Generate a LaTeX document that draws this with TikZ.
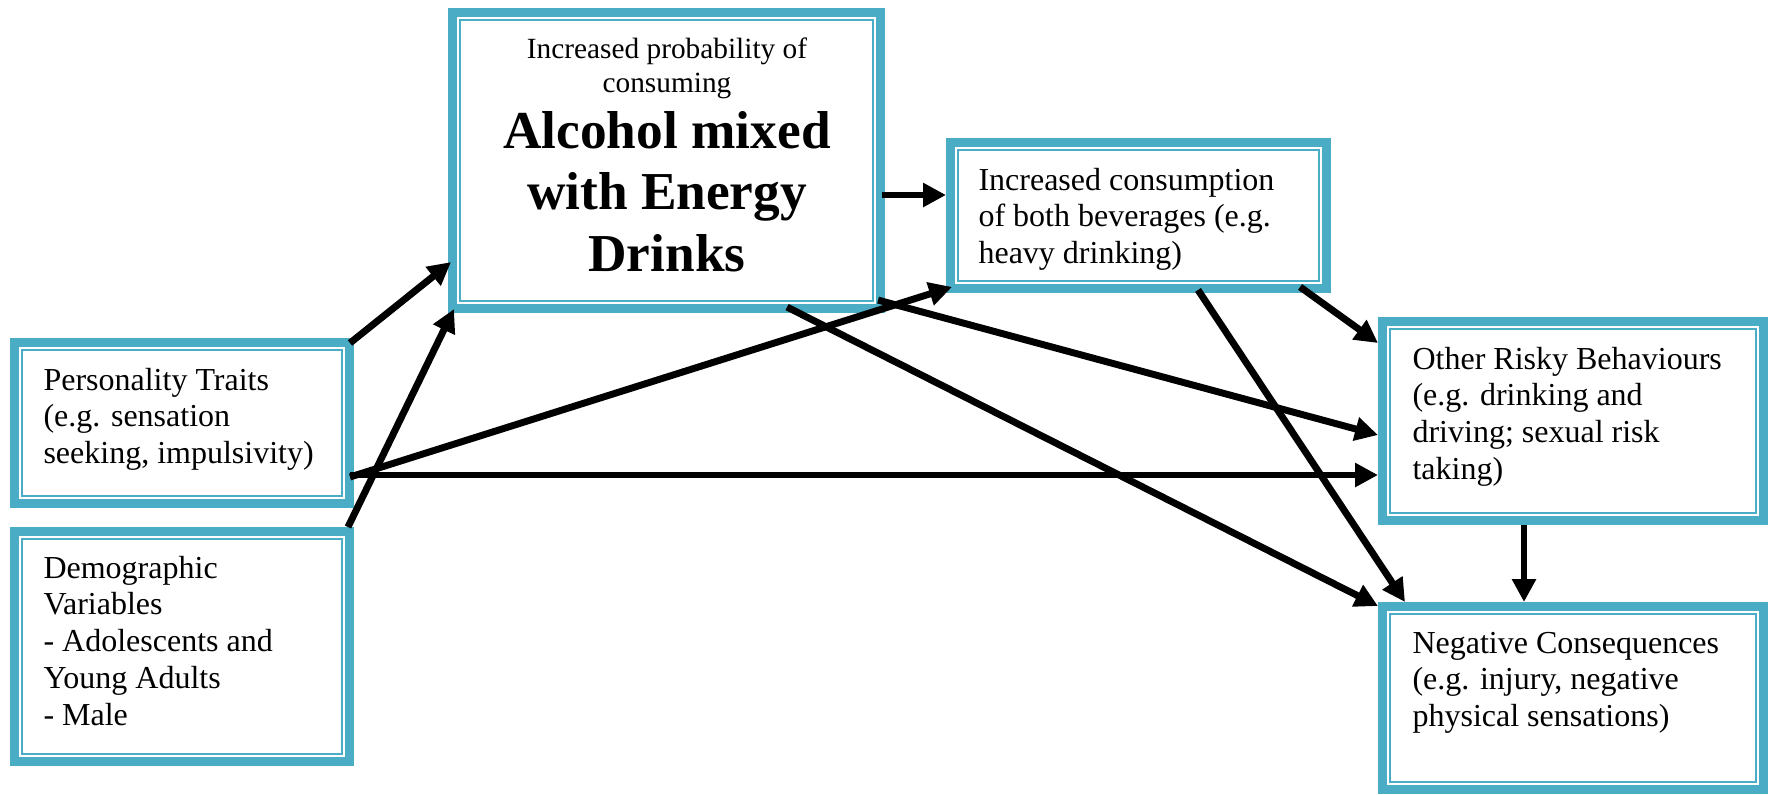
\documentclass[tikz,border=0pt]{standalone}
\usepackage{fontspec}
\setmainfont{Liberation Serif}
\usetikzlibrary{arrows.meta,calc}
\definecolor{boxblue}{RGB}{75,172,198}
\begin{document}
\begin{tikzpicture}[x=0.375pt,y=-0.375pt,
  cbox/.style={draw=boxblue, line width=3.5pt, fill=white, rectangle, inner sep=0pt, anchor=north west},
  inbox/.style={draw=boxblue, line width=0.75pt},
  arr/.style={line width=2.6pt, -{Triangle[length=8.6pt,width=8.6pt]}},
  txt/.style={inner sep=0pt, anchor=base west},
  bodyfont/.style={font=\rmfamily\mdseries\fontsize{12}{13.8}\selectfont}
]
\useasboundingbox (0,0) rectangle (1768,794);

% boxes
\node[cbox, minimum width=125.5pt, minimum height=60.25pt] (pt) at (10,338) {};
\node[cbox, minimum width=125.5pt, minimum height=86.1pt] (dv) at (10,527) {};
\node[cbox, minimum width=160.4pt, minimum height=110.9pt] (am) at (448,8) {};
\node[cbox, minimum width=140.9pt, minimum height=54.6pt] (ic) at (946,138) {};
\node[cbox, minimum width=142.75pt, minimum height=74.5pt] (orb) at (1378,317) {};
\node[cbox, minimum width=142.75pt, minimum height=68.5pt] (nc) at (1378,602) {};

\foreach \n in {pt,dv,am,ic,orb,nc}
  \draw[inbox] ($(\n.north west)+(11.7,11.7)$) rectangle ($(\n.south east)+(-11.7,-11.7)$);

% texts
\node[txt, bodyfont] (ptt) at (43,390) {\parbox[t]{150pt}{\rmfamily\raggedright Personality Traits\\(e.g. sensation\\seeking, impulsivity)}};
\node[txt, bodyfont] (dvt) at (43,578) {\parbox[t]{150pt}{\rmfamily\raggedright Demographic\\Variables\\- Adolescents and\\Young Adults\\- Male}};
\node[inner sep=0pt, anchor=base, font=\rmfamily\fontsize{11}{12.75}\selectfont] (ams) at (667,58) {\parbox[t]{200pt}{\centering Increased probability of\\consuming}};
\node[inner sep=0pt, anchor=base, font=\rmfamily\bfseries\fontsize{20}{23.2}\selectfont] (amb) at (667,148) {\parbox[t]{200pt}{\centering Alcohol mixed\\with Energy\\Drinks}};
\node[txt, bodyfont] (ict) at (978,190) {\parbox[t]{150pt}{\rmfamily\raggedright Increased consumption\\of both beverages (e.g.\\heavy drinking)}};
\node[txt, bodyfont] (orbt) at (1412,369) {\parbox[t]{150pt}{\rmfamily\raggedright Other Risky Behaviours\\(e.g. drinking and\\driving; sexual risk\\taking)}};
\node[txt, bodyfont] (nct) at (1412,653) {\parbox[t]{150pt}{\rmfamily\raggedright Negative Consequences\\(e.g. injury, negative\\physical sensations)}};

% connectors
\draw[arr] ($(pt.north east)+(-4,5)$) -- ($(am.south west)+(3,-51)$);
\draw[arr] ($(dv.north east)+(-6,0)$) -- ($(am.south west)+(6,-4)$);
\draw[arr] ($(pt.south east)+(-4,-31)$) -- ($(ic.south west)+(6,-6)$);
\draw[arr] ($(pt.south east)+(-4,-33)$) -- ($(orb.south west)+(0,-50)$);
\draw[arr] ($(am.north east)+(-3,187)$) -- ($(ic.north west)+(0,57)$);
\draw[arr] ($(am.south east)+(-7,-13)$) -- ($(orb.north west)+(0,118)$);
\draw[arr] ($(am.south east)+(-98,-6)$) -- ($(nc.north west)+(0,4)$);
\draw[arr] ($(ic.south west)+(252,-3)$) -- ($(nc.north west)+(27,0)$);
\draw[arr] ($(ic.south east)+(-31,-6)$) -- ($(orb.north west)+(0,26)$);
\draw[arr] ($(orb.south west)+(146,0)$) -- ($(nc.north west)+(146,0)$);
\end{tikzpicture}
\end{document}
